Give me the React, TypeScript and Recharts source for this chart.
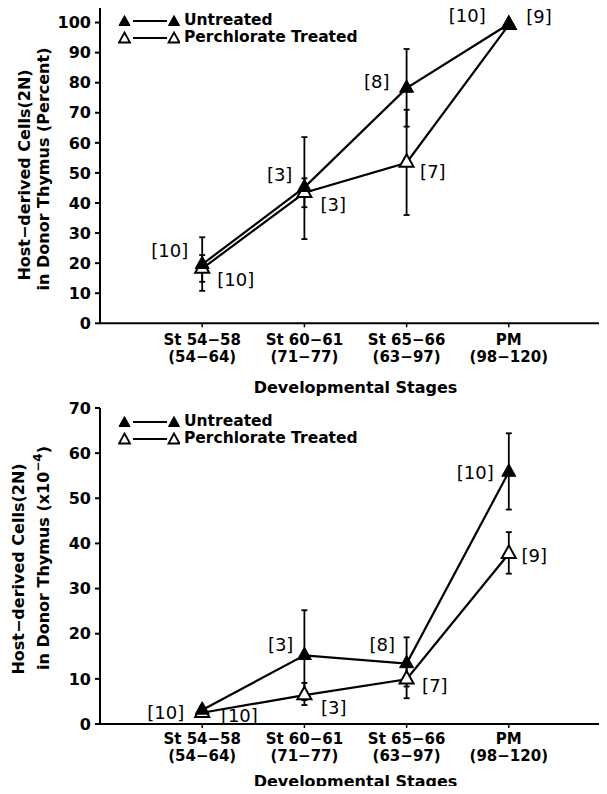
import React from 'react';
import { LineChart, Line, XAxis, YAxis, ErrorBar, LabelList } from 'recharts';

// x categories
const stages = ['St 54−58', 'St 60−61', 'St 65−66', 'PM'];
const dayRanges = ['(54−64)', '(71−77)', '(63−97)', '(98−120)'];
const stagePos = [1, 2, 3, 4];

const seriesNames = ['Untreated', 'Perchlorate Treated'];

// upper panel, percent host-derived cells
const pctTicks = [0, 10, 20, 30, 40, 50, 60, 70, 80, 90, 100];
const pctUntreated = [19.6, 45.2, 78.2, 99.5];
const pctUntreatedLow = [10.8, 28.0, 65.4, 99.5];
const pctUntreatedHigh = [28.6, 61.9, 91.2, 99.5];
const pctTreated = [18.2, 43.4, 53.4, 99.2];
const pctTreatedLow = [13.8, 38.6, 36.0, 99.2];
const pctTreatedHigh = [22.7, 48.2, 71.0, 99.2];
const pctNUntreated = [10, 3, 8, 10];
const pctNTreated = [10, 3, 7, 9];

// lower panel, cell number (x10^-4)
const cntTicks = [0, 10, 20, 30, 40, 50, 60, 70];
const cntUntreated = [3.1, 15.2, 13.4, 55.8];
const cntUntreatedLow = [2.3, 5.3, 8.3, 47.5];
const cntUntreatedHigh = [3.9, 25.2, 19.2, 64.4];
const cntTreated = [2.5, 6.4, 9.9, 37.7];
const cntTreatedLow = [1.8, 4.2, 5.7, 33.3];
const cntTreatedHigh = [3.2, 9.1, 13.6, 42.5];
const cntNUntreated = [10, 3, 8, 10];
const cntNTreated = [10, 3, 7, 9];

const FONT = '"DejaVu Sans", sans-serif';

function buildRows(u, uLo, uHi, t, tLo, tHi, uN, tN) {
  return stagePos.map((pos, i) => ({
    pos,
    u: u[i],
    t: t[i],
    uErr: [u[i] - uLo[i], uHi[i] - u[i]],
    tErr: [t[i] - tLo[i], tHi[i] - t[i]],
    uN: uN[i],
    tN: tN[i],
  }));
}

const triangle = (filled: boolean, w = 14, h = 12.5) => (p: any) => {
  const { cx, cy, index } = p;
  if (cx == null || cy == null) return <g key={index} />;
  const d = `M${cx},${cy - (h * 2) / 3} L${cx + w / 2},${cy + h / 3} L${cx - w / 2},${cy + h / 3} Z`;
  return (
    <path key={index} d={d} fill={filled ? '#000' : '#fff'} stroke="#000"
      strokeWidth={filled ? 1 : 2} strokeLinejoin="miter" />
  );
};

// [n] labels: untreated to the left, treated to the right
const nLabel = (side: 'left' | 'right', nudge: number[][]) => (p: any) => {
  const vx = p.viewBox?.x ?? p.x;
  const vy = p.viewBox?.y ?? p.y;
  const [gap, dy] = nudge[p.index] || [14, 0];
  return (
    <text x={side === 'left' ? vx - gap : vx + gap} y={vy + dy} dy="0.32em"
      textAnchor={side === 'left' ? 'end' : 'start'} fontFamily={FONT} fontSize={18} fill="#000">
      [{p.value}]
    </text>
  );
};

const StageTick = ({ x, y, payload, drop }: any) => {
  const i = stagePos.indexOf(payload.value);
  return (
    <text x={x} y={y} textAnchor="middle" fontFamily={FONT} fontWeight="bold" fontSize={15} fill="#000">
      <tspan x={x} dy={drop}>{stages[i]}</tspan>
      <tspan x={x} dy={17.6}>{dayRanges[i]}</tspan>
    </text>
  );
};

function Key({ top }: { top: number }) {
  const row = (filled: boolean, name: string) => (
    <div key={name} style={{ display: 'flex', alignItems: 'center', height: 17.6 }}>
      <svg width={62} height={14} style={{ display: 'block' }}>
        {[6.5, 56].map((cx) => (
          <path key={cx} d={`M${cx},1.5 L${cx + 5.5},11.5 L${cx - 5.5},11.5 Z`}
            fill={filled ? '#000' : '#fff'} stroke="#000" strokeWidth={filled ? 1 : 1.8} />
        ))}
        <line x1={15} x2={49} y1={7} y2={7} stroke="#000" strokeWidth={1.8} />
      </svg>
      <span style={{ marginLeft: 4 }}>{name}</span>
    </div>
  );
  return (
    <div style={{ position: 'absolute', left: 118, top, fontFamily: FONT, fontWeight: 'bold',
      fontSize: 15.5, lineHeight: '17.6px', color: '#000', whiteSpace: 'nowrap' }}>
      {row(true, seriesNames[0])}
      {row(false, seriesNames[1])}
    </div>
  );
}

function Panel({ top, height, axisH, marginTop, yMax, ticks, rows, yLabel, titleOffset, tickDrop, nudges }: any) {
  return (
    <div style={{ position: 'absolute', left: 0, top }}>
      <LineChart width={620} height={height} data={rows}
        margin={{ top: marginTop, right: 9, bottom: 0, left: 0 }}>
        <XAxis dataKey="pos" type="number" domain={[0, 5]} ticks={stagePos} interval={0}
          height={axisH} tickSize={4} tickMargin={0}
          axisLine={{ stroke: '#000', strokeWidth: 2 }} tickLine={{ stroke: '#000', strokeWidth: 1.5 }}
          tick={(p: any) => <StageTick {...p} drop={tickDrop} />}
          label={{ value: 'Developmental Stages', position: 'insideBottom', offset: titleOffset,
            fill: '#000', fontSize: 16, fontWeight: 'bold', fontFamily: FONT }} />
        <XAxis xAxisId="frame" orientation="top" dataKey="pos" type="number" domain={[0, 5]}
          height={0} tick={false} tickLine={false} axisLine={{ stroke: '#000', strokeWidth: 2 }} />
        <YAxis type="number" domain={[0, yMax]} ticks={ticks} interval={0} width={100}
          tickSize={5} tickMargin={4} allowDataOverflow
          axisLine={{ stroke: '#000', strokeWidth: 2 }} tickLine={{ stroke: '#000', strokeWidth: 2 }}
          tick={{ fill: '#000', fontSize: 16, fontWeight: 'bold', fontFamily: FONT }}
          label={yLabel} />
        <Line dataKey="t" stroke="#000" strokeWidth={2.2} isAnimationActive={false}
          dot={triangle(false)} activeDot={false}>
          <ErrorBar dataKey="tErr" width={3} stroke="#000" strokeWidth={1.8} direction="y" />
          <LabelList dataKey="tN" content={nLabel('right', nudges.t)} />
        </Line>
        <Line dataKey="u" stroke="#000" strokeWidth={2.2} isAnimationActive={false}
          dot={triangle(true)} activeDot={false}>
          <ErrorBar dataKey="uErr" width={3} stroke="#000" strokeWidth={1.8} direction="y" />
          <LabelList dataKey="uN" content={nLabel('left', nudges.u)} />
        </Line>
      </LineChart>
    </div>
  );
}

const pctLabel = () => (
  <g fontFamily={FONT} fontWeight="bold" fontSize={16} fill="#000">
    <text x={30} y={175} transform="rotate(-90 30 175)" textAnchor="middle">Host−derived Cells(2N)</text>
    <text x={49} y={169} transform="rotate(-90 49 169)" textAnchor="middle">in Donor Thymus (Percent)</text>
  </g>
);

const cntLabel = () => (
  <g fontFamily={FONT} fontWeight="bold" fontSize={16} fill="#000">
    <text x={24} y={169} transform="rotate(-90 24 169)" textAnchor="middle">Host−derived Cells(2N)</text>
    <text x={49} y={158} transform="rotate(-90 49 158)" textAnchor="middle">
      in Donor Thymus (x10<tspan dy={-7} fontSize={12}>−4</tspan><tspan dy={7}>)</tspan>
    </text>
  </g>
);

const pctRows = buildRows(pctUntreated, pctUntreatedLow, pctUntreatedHigh, pctTreated, pctTreatedLow,
  pctTreatedHigh, pctNUntreated, pctNTreated);
const cntRows = buildRows(cntUntreated, cntUntreatedLow, cntUntreatedHigh, cntTreated, cntTreatedLow,
  cntTreatedHigh, cntNUntreated, cntNTreated);

export default function App() {
  return (
    <div style={{ position: 'relative', width: 607, height: 794, margin: -8, overflow: 'hidden', background: '#fff' }}>
      <Panel top={0} height={400} axisH={76.7} marginTop={7.5} yMax={105} ticks={pctTicks}
        rows={pctRows} yLabel={pctLabel} titleOffset={7} tickDrop={17.5}
        nudges={{ u: [[14, -13], [12, -12], [17, -6], [23, -8]], t: [[15, 12], [16, 12], [13.5, 10], [17.5, -8]] }} />
      <Panel top={400} height={394} axisH={70} marginTop={8} yMax={70} ticks={cntTicks}
        rows={cntRows} yLabel={cntLabel} titleOffset={7} tickDrop={15.5}
        nudges={{ u: [[18, 3], [11, -10], [11.5, -18], [15, 1]], t: [[18.7, 4], [16.5, 13], [15.5, 7], [12.6, 2]] }} />
      <Key top={11.9} />
      <Key top={412.9} />
    </div>
  );
}
